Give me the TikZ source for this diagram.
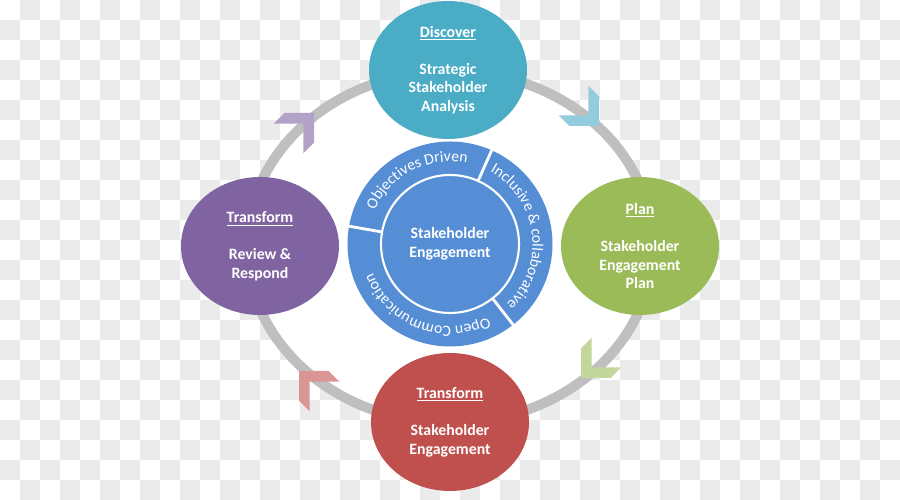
\documentclass[tikz,border=0pt]{standalone}
\usepackage{fontspec}
\setmainfont{Carlito}
\usetikzlibrary{shapes.geometric,decorations.text}

\definecolor{discoverteal}{HTML}{4BACC6}
\definecolor{plangreen}{HTML}{9BBB59}
\definecolor{reviewpurple}{HTML}{8064A2}
\definecolor{engagered}{HTML}{C0504D}
\definecolor{coreblue}{HTML}{558ED5}
\definecolor{ringgray}{HTML}{BFBFBF}
\definecolor{checkgray}{HTML}{EBEBEB}
\definecolor{tealarrow}{HTML}{93CDDD}
\definecolor{greenarrow}{HTML}{C3D69B}
\definecolor{redarrow}{HTML}{D99694}
\definecolor{purplearrow}{HTML}{B3A2C7}

\newcommand{\phasefont}{\fontsize{9}{10.6}\selectfont\bfseries}
\newcommand{\ringfont}{\fontsize{8.9}{10}\selectfont}

\tikzset{
    phase/.style={ellipse, minimum width=3.16cm, minimum height=2.76cm, inner sep=0pt, text=white, align=center, font=\phasefont},
    chevron/.pic={\fill[#1] (0,0) -- (-0.42,0.42) -- (-0.72,0.42) -- (-0.30,0) -- (-0.72,-0.42) -- (-0.42,-0.42) -- cycle;},
    ringtext/.style={decorate, decoration={text along path, text align=center, text={|\ringfont\color{white}|#1}}},
    divider/.style={draw=white, line width=1.6pt}
}

\begin{document}
\begin{tikzpicture}
    \useasboundingbox (0,0) rectangle (18,10);
    % checkerboard background
    \foreach \j in {0,2,...,24}
        \foreach \i in {1,3,...,43}
            \fill[checkgray] ({0.4*\i},{9.6-0.4*\j}) rectangle ++(0.4,0.4);
    \foreach \j in {1,3,...,23}
        \foreach \i in {0,2,...,44}
            \fill[checkgray] ({0.4*\i},{9.6-0.4*\j}) rectangle ++(0.4,0.4);

    % the cycle ring
    \coordinate (O) at (9,5.06);
    \fill[white] (O) ellipse[x radius=4.06cm, y radius=3.52cm];
    \draw[ringgray, line width=0.2cm] (O) ellipse[x radius=4.06cm, y radius=3.52cm];

    % chevrons on the ring
    \pic[rotate=45] at (6.28,7.74) {chevron=purplearrow};
    \pic[rotate=-45] at (11.98,7.48) {chevron=tealarrow};
    \pic[rotate=-135] at (11.62,2.44) {chevron=greenarrow};
    \pic[rotate=135] at (5.98,2.58) {chevron=redarrow};

    % centre hub
    \node[circle, fill=coreblue, minimum size=4.1cm, inner sep=0pt] (core) at (9,5.12) {};
    \node[circle, fill=coreblue, draw=white, line width=1.2pt, minimum size=2.76cm, inner sep=0pt, text=white, align=center, font=\phasefont] (hub) at (core) {Stakeholder\\Engagement};
    \draw[divider] (hub.66) -- (core.66);
    \draw[divider] (hub.170) -- (core.170);
    \draw[divider] (hub.-52) -- (core.-52);
    \path[ringtext={Objectives Driven}] ([shift={(166:1.65)}]core.center) arc[start angle=166, end angle=68, radius=1.65];
    \path[ringtext={Inclusive {\&} collaborative}] ([shift={(64:1.65)}]core.center) arc[start angle=64, end angle=-50, radius=1.65];
    \path[ringtext={Open Communication}] ([shift={(-55:1.65)}]core.center) arc[start angle=-55, end angle=-167, radius=1.65];

    % the four phases
    \node[phase, fill=discoverteal] (discover) at (8.96,8.6) {\underline{Discover}\\[10.6pt]Strategic\\Stakeholder\\Analysis};
    \node[phase, fill=plangreen] (plan) at (12.8,5.08) {\underline{Plan}\\[10.6pt]Stakeholder\\Engagement\\Plan};
    \node[phase, fill=engagered] (engage) at (9.0,1.56) {\underline{Transform}\\[10.6pt]Stakeholder\\Engagement};
    \node[phase, fill=reviewpurple] (review) at (5.2,5.08) {\underline{Transform}\\[10.6pt]Review \&\\Respond};
\end{tikzpicture}
\end{document}
